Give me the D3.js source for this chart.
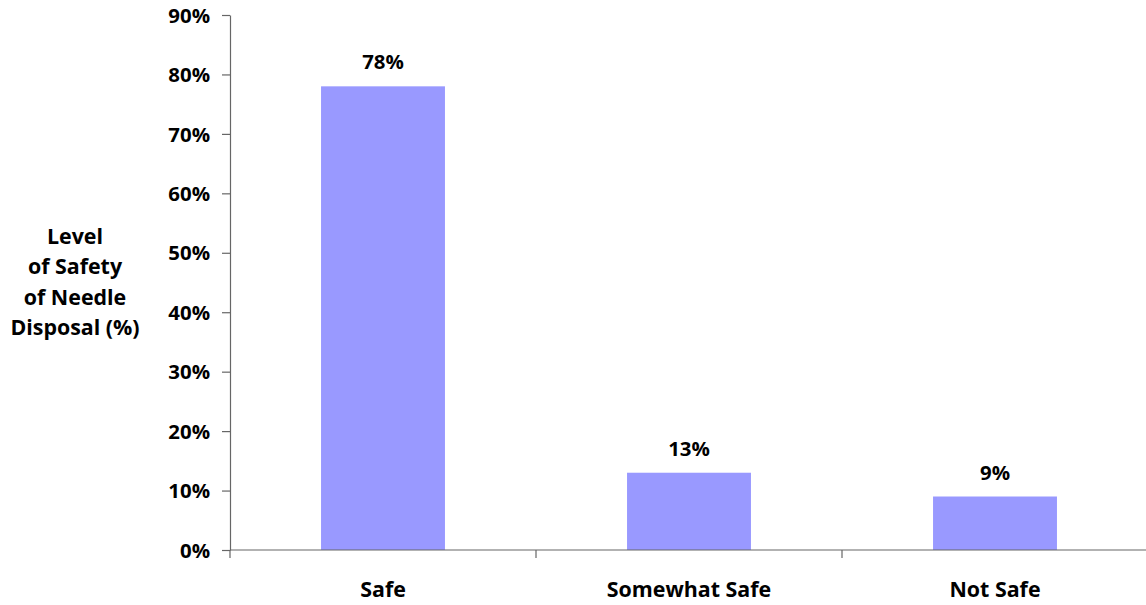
<!DOCTYPE html>
<html>
<head>
<meta charset="utf-8">
<script src="https://cdn.jsdelivr.net/npm/d3@7"></script>
<style>
  html, body { margin: 0; padding: 0; background: #fff; }
  svg text { font-family: "Open Sans", Lato, sans-serif; font-weight: 700; fill: #000; }
</style>
</head>
<body>
<svg id="chart" width="1146" height="605"></svg>
<script>
// Survey categories and their shares (%)
const categories = ["Safe", "Somewhat Safe", "Not Safe"];
const values = [78, 13, 9];
const yTicks = [0, 10, 20, 30, 40, 50, 60, 70, 80, 90];
const yTitleLines = ["Level", "of Safety", "of Needle", "Disposal (%)"];

const svg = d3.select("#chart");
const plot = { left: 230, right: 1148, top: 15, bottom: 550 };
const fontSize = "21.4px";
const tickFontSize = "20.4px";

const x = d3.scaleBand()
  .domain(categories)
  .range([plot.left, plot.left + 306 * 3])
  .paddingInner(0.595)
  .paddingOuter(0.2975);

const y = d3.scaleLinear().domain([0, 90]).range([plot.bottom, plot.top]);

// bars
svg.append("g").selectAll("rect")
  .data(values)
  .join("rect")
  .attr("x", (d, i) => x(categories[i]))
  .attr("y", d => y(d))
  .attr("width", x.bandwidth())
  .attr("height", d => y(0) - y(d))
  .attr("fill", "#9999FF");

// value labels
svg.append("g").selectAll("text")
  .data(values)
  .join("text")
  .attr("x", (d, i) => x(categories[i]) + x.bandwidth() / 2)
  .attr("y", d => y(d) - 17)
  .attr("text-anchor", "middle")
  .style("font-size", tickFontSize)
  .text(d => d + "%");

// y axis
const yAxis = svg.append("g")
  .attr("transform", `translate(${plot.left},0)`)
  .call(d3.axisLeft(y).tickValues(yTicks).tickFormat(d => d + "%").tickSize(8).tickSizeOuter(0).tickPadding(12));
yAxis.select(".domain").attr("stroke", "#666").attr("stroke-width", 1.2);
yAxis.selectAll(".tick line").attr("stroke", "#666").attr("stroke-width", 1.2);
yAxis.selectAll(".tick text").style("font-size", tickFontSize).attr("dy", "0.35em");

// x axis with ticks at category boundaries
const step = x.step();
const bounds = d3.range(categories.length + 1).map(i => plot.left + i * step);
const xAxisG = svg.append("g").attr("transform", `translate(0,${plot.bottom})`);
xAxisG.append("line")
  .attr("x1", plot.left).attr("x2", plot.right)
  .attr("stroke", "#666").attr("stroke-width", 1.2);
xAxisG.selectAll("line.tk")
  .data(bounds)
  .join("line")
  .attr("class", "tk")
  .attr("x1", d => d).attr("x2", d => d)
  .attr("y1", 0).attr("y2", 8)
  .attr("stroke", "#666").attr("stroke-width", 1.2);
xAxisG.selectAll("text")
  .data(categories)
  .join("text")
  .attr("x", d => x(d) + x.bandwidth() / 2)
  .attr("y", 47)
  .attr("text-anchor", "middle")
  .style("font-size", fontSize)
  .text(d => d);

// y axis title
svg.append("text")
  .attr("text-anchor", "middle")
  .style("font-size", fontSize)
  .selectAll("tspan")
  .data(yTitleLines)
  .join("tspan")
  .attr("x", 75)
  .attr("y", (d, i) => 244 + i * 30.3)
  .text(d => d);
</script>
</body>
</html>
